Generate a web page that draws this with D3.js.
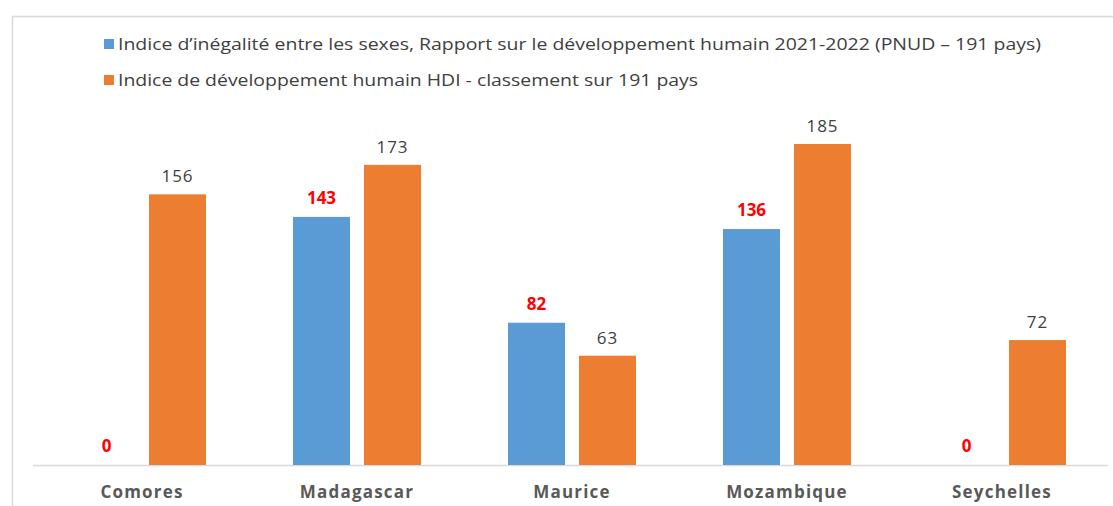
<!DOCTYPE html>
<html><head><meta charset="utf-8">
<script src="https://cdn.jsdelivr.net/npm/d3@7"></script>
<style>html,body{margin:0;padding:0;background:#fff;}svg{display:block;}</style>
</head><body>
<script>
const categories = ["Comores","Madagascar","Maurice","Mozambique","Seychelles"];
const seriesNames = ["Indice d’inégalité entre les sexes, Rapport sur le développement  humain 2021-2022 (PNUD – 191 pays)",
                     "Indice de développement humain HDI - classement sur 191 pays"];
const inequality = [0,143,82,136,0];
const hdi = [156,173,63,185,72];

const W=1113,H=506;
const svg=d3.select("body").append("svg").attr("width",W).attr("height",H);
const font="'Open Sans', 'Noto Sans', sans-serif";

// frame
svg.append("path").attr("d",`M12.5,${H} V16.5 H${W}`).attr("fill","none").attr("stroke","#d9d9d9").attr("stroke-width",1.5);

const x=d3.scaleBand().domain(categories).range([34.5,1109.5]).paddingInner(0).paddingOuter(0);
const y=d3.scaleLinear().domain([0,200]).range([465,118]);
const colors=["#5b9bd5","#ed7d31"];
const barW=57, off=35.5;

// baseline
svg.append("line").attr("x1",33).attr("x2",1108).attr("y1",465.5).attr("y2",465.5).attr("stroke","#d9d9d9").attr("stroke-width",1.5);

const data=[inequality,hdi];
data.forEach((vals,si)=>{
  const g=svg.append("g");
  g.selectAll("rect").data(categories.map((c,i)=>({c,v:vals[i]})).filter(d=>d.v>0)).join("rect")
    .attr("x",d=>x(d.c)+x.bandwidth()/2+(si===0?-off:off)-barW/2)
    .attr("width",barW)
    .attr("y",d=>y(d.v)).attr("height",d=>y(0)-y(d.v))
    .attr("fill",colors[si]);
  g.selectAll("text").data(categories.map((c,i)=>({c,v:vals[i]}))).join("text")
    .attr("x",d=>x(d.c)+x.bandwidth()/2+(si===0?-off:off))
    .attr("y",d=>y(d.v)-(si===0?13:12))
    .attr("text-anchor","middle")
    .attr("font-family",font).attr("font-size",17)
    .attr("font-weight",si===0?"bold":"normal")
    .attr("letter-spacing",si===0?0:1)
    .attr("fill",si===0?"#ff0000":"#404040")
    .text(d=>d.v);
});

// category labels
svg.append("g").selectAll("text").data(categories).join("text")
  .attr("x",d=>x(d)+x.bandwidth()/2).attr("y",498)
  .attr("text-anchor","middle").attr("font-family",font).attr("font-size",17).attr("font-weight","bold")
  .attr("letter-spacing",1.2)
  .attr("fill","#595959").text(d=>d);

// legend
const legW=[923,580];
seriesNames.forEach((n,i)=>{
  const ly=44+i*36;
  svg.append("rect").attr("x",104).attr("y",ly-5).attr("width",10).attr("height",10).attr("fill",colors[i]);
  svg.append("text").attr("x",118).attr("y",ly+6).attr("font-family",font).attr("font-size",16)
    .attr("fill","#404040").attr("textLength",legW[i]).attr("lengthAdjust","spacingAndGlyphs").text(n);
});
</script>
</body></html>
